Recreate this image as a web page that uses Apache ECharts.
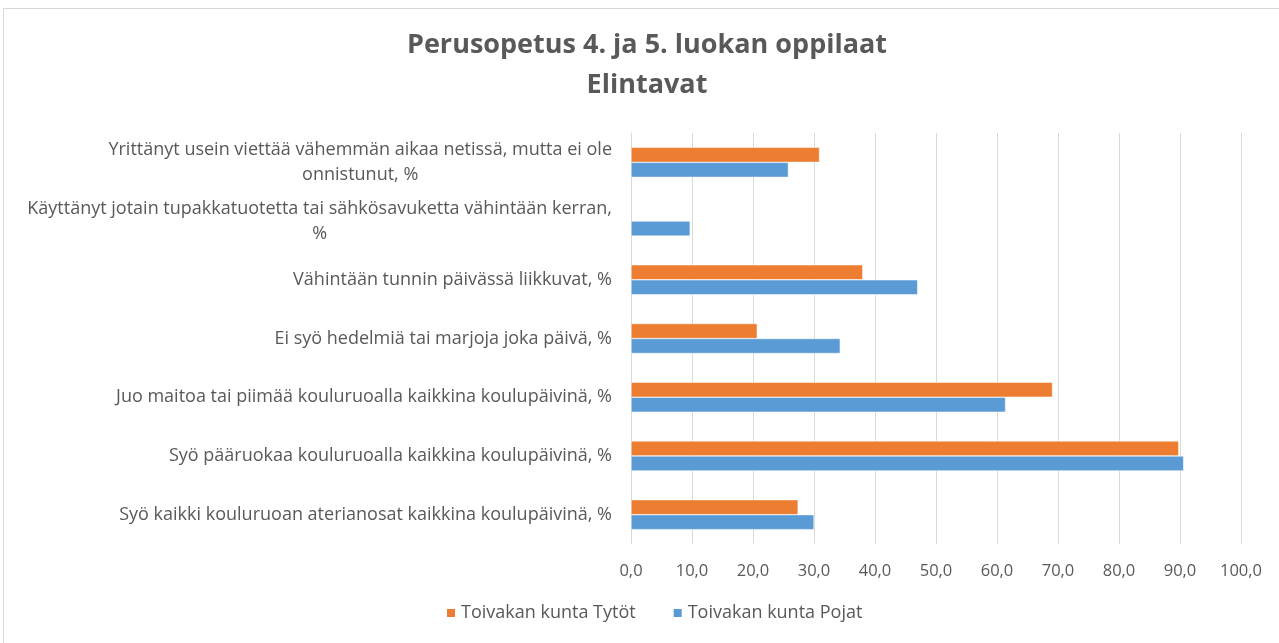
<!DOCTYPE html>
<html>
<head>
<meta charset="utf-8">
<script src="https://cdn.jsdelivr.net/npm/echarts@6/dist/echarts.min.js"></script>
<style>
  html, body { margin: 0; padding: 0; background: #fff; }
  #kehys { position: absolute; left: 3px; top: 8px; width: 1300px; height: 700px; border: 1px solid #d9d9d9; }
  #kaavio { position: absolute; left: 0; top: 0; width: 1279px; height: 643px; }
</style>
</head>
<body>
<div id="kehys"></div>
<div id="kaavio"></div>
<script>
// kysymykset ylhäältä alas
let kysymykset = [
    'Yrittänyt usein viettää vähemmän aikaa netissä, mutta ei ole\nonnistunut, %',
    'Käyttänyt jotain tupakkatuotetta tai sähkösavuketta vähintään kerran,\n%',
    'Vähintään tunnin päivässä liikkuvat, %',
    'Ei syö hedelmiä tai marjoja joka päivä, %',
    'Juo maitoa tai piimää kouluruoalla kaikkina koulupäivinä, %',
    'Syö pääruokaa kouluruoalla kaikkina koulupäivinä, %',
    'Syö kaikki kouluruoan aterianosat kaikkina koulupäivinä, %'
]
let sarjaNimet = ['Toivakan kunta Tytöt', 'Toivakan kunta Pojat']
let tytot = [30.9, null, 38.0, 20.7, 69.1, 89.8, 27.4]
let pojat = [25.8, 9.7, 47.0, 34.3, 61.4, 90.6, 30.0]

let harmaa = '#595959'
let fontti = '"Open Sans", "Noto Sans", sans-serif'

let myChart = echarts.init(document.getElementById('kaavio'), null, { renderer: 'canvas' })

let option = {
    backgroundColor: 'transparent',
    title: {
        text: 'Perusopetus 4. ja 5. luokan oppilaat\nElintavat',
        left: 647,
        top: 25,
        textAlign: 'center',
        padding: 0,
        textStyle: {
            fontFamily: fontti,
            fontSize: 27,
            fontWeight: 'bold',
            color: harmaa,
            lineHeight: 40
        }
    },
    legend: {
        data: sarjaNimet,
        left: 445,
        top: 604,
        padding: 0,
        itemWidth: 10,
        itemHeight: 10,
        itemGap: 36,
        icon: 'rect',
        textStyle: { fontFamily: fontti, fontSize: 18, color: harmaa }
    },
    grid: { left: 631, right: 38, top: 133, bottom: 99, containLabel: false },
    xAxis: {
        type: 'value',
        min: 0,
        max: 100,
        interval: 10,
        axisLine: { show: false },
        axisTick: { show: false },
        axisLabel: {
            margin: 19,
            fontFamily: fontti,
            fontSize: 16.5,
            color: harmaa,
            formatter: v => v.toFixed(1).replace('.', ',')
        },
        splitLine: { lineStyle: { color: '#d9d9d9', width: 1 } }
    },
    yAxis: {
        type: 'category',
        inverse: true,
        data: kysymykset,
        axisLine: { show: true, lineStyle: { color: '#d9d9d9' } },
        axisTick: { show: false },
        axisLabel: {
            margin: 19,
            formatter: v => v.split('\n').map(r => '{c|' + r + '}').join('\n'),
            rich: {
                c: {
                    align: 'center',
                    fontFamily: fontti,
                    fontSize: 18,
                    color: harmaa,
                    lineHeight: 25
                }
            }
        }
    },
    series: [
        {
            name: sarjaNimet[0],
            type: 'bar',
            data: tytot,
            barWidth: 15,
            barGap: '0%',
            itemStyle: { color: '#ed7d31', borderColor: '#fff', borderWidth: 0.5 }
        },
        {
            name: sarjaNimet[1],
            type: 'bar',
            data: pojat,
            barWidth: 15,
            barGap: '0%',
            itemStyle: { color: '#5b9bd5', borderColor: '#fff', borderWidth: 0.5 }
        }
    ]
}

myChart.setOption(option)
window.addEventListener('resize', myChart.resize)
</script>
</body>
</html>
